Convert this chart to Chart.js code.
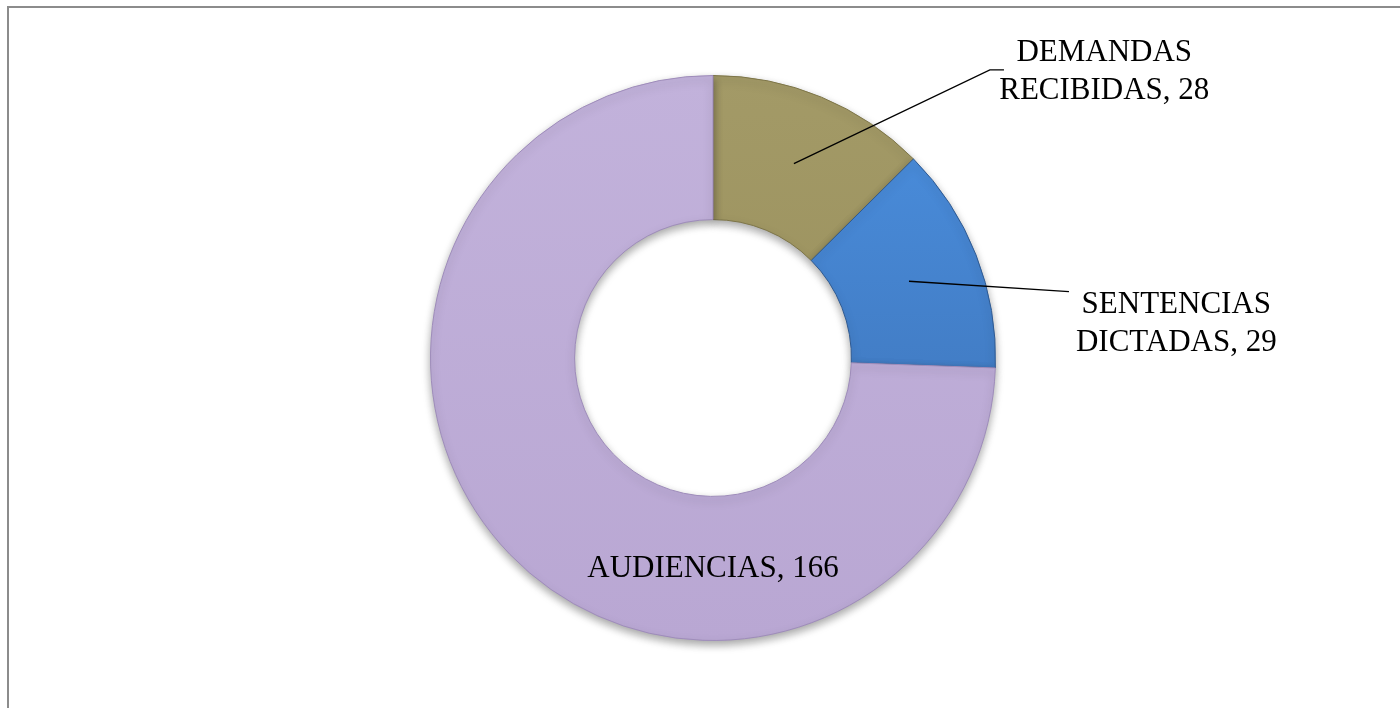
<!DOCTYPE html>
<html>
<head>
<meta charset="utf-8">
<script src="https://cdn.jsdelivr.net/npm/chart.js@4.4.1/dist/chart.umd.min.js"></script>
<style>
  html, body { margin: 0; padding: 0; background: #fff; }
  #wrap { width: 1400px; height: 708px; }
</style>
</head>
<body>
<div id="wrap"><canvas id="DonutChart" width="1400" height="708"></canvas></div>
<script>
let categories = ['DEMANDAS RECIBIDAS', 'SENTENCIAS DICTADAS', 'AUDIENCIAS'];
let values = [28, 29, 166];
let labelLines = [['DEMANDAS', 'RECIBIDAS, 28'], ['SENTENCIAS', 'DICTADAS, 29'], ['AUDIENCIAS, 166']];
let colorsTop = ['#a39a67', '#4b90e0', '#c2b2db'];
let colorsBottom = ['#958b57', '#3a6cae', '#b9a7d3'];
let edgeColors = ['#7d7548', '#2f5a92', '#9e8cba'];

function SliceGradient(context) {
    let chart = context.chart;
    let area = chart.chartArea;
    if (!area) return colorsTop[context.dataIndex];
    let g = chart.ctx.createLinearGradient(0, area.top, 0, area.bottom);
    g.addColorStop(0, colorsTop[context.dataIndex]);
    g.addColorStop(1, colorsBottom[context.dataIndex]);
    return g;
}

// grey frame around the plot, cut off at right and bottom like the source
let framePlugin = {
    id: 'frame',
    beforeDraw: function (chart) {
        let ctx = chart.ctx;
        ctx.save();
        ctx.strokeStyle = '#8c8c8c';
        ctx.lineWidth = 2;
        ctx.strokeRect(8, 7, 1500, 800);
        ctx.restore();
    }
};

let shadowPlugin = {
    id: 'shadow',
    beforeDatasetDraw: function (chart) {
        let ctx = chart.ctx;
        ctx.save();
        ctx.shadowColor = 'rgba(0,0,0,0.35)';
        ctx.shadowBlur = 9;
        ctx.shadowOffsetY = 4;
    },
    afterDatasetDraw: function (chart) {
        chart.ctx.restore();
    }
};

// text offsets relative to chart centre, in units of outer radius
let labelOffsets = [
    { x: 1.385, y: -1.05, lineTo: [0.98, -1.02], hook: [1.03, -1.02] },
    { x: 1.64, y: -0.16, lineTo: [1.26, -0.235], hook: null },
    { x: 0.0, y: 0.775, lineTo: null, hook: null }
];

let labelPlugin = {
    id: 'sliceLabels',
    afterDatasetsDraw: function (chart) {
        let ctx = chart.ctx;
        let meta = chart.getDatasetMeta(0);
        ctx.save();
        ctx.font = '31px "Liberation Serif", "Times New Roman", serif';
        ctx.fillStyle = '#000';
        ctx.textAlign = 'center';
        ctx.textBaseline = 'alphabetic';
        meta.data.forEach(function (arc, i) {
            let cx = arc.x, cy = arc.y, r = arc.outerRadius;
            let off = labelOffsets[i];
            if (off.lineTo) {
                let p = arc.tooltipPosition();
                ctx.beginPath();
                ctx.strokeStyle = '#000';
                ctx.lineWidth = 1.3;
                ctx.moveTo(p.x, p.y);
                ctx.lineTo(cx + off.lineTo[0] * r, cy + off.lineTo[1] * r);
                if (off.hook) ctx.lineTo(cx + off.hook[0] * r, cy + off.hook[1] * r);
                ctx.stroke();
            }
            let lines = labelLines[i];
            let lh = 38;
            let tx = cx + off.x * r;
            let ty = cy + off.y * r;
            lines.forEach(function (t, k) {
                ctx.fillText(t, tx, ty + k * lh);
            });
        });
        ctx.restore();
    }
};

let donutData = {
    labels: categories,
    datasets: [{
        data: values,
        backgroundColor: SliceGradient,
        borderColor: edgeColors,
        borderWidth: 1
    }]
};

new Chart(document.getElementById('DonutChart').getContext('2d'), {
    type: 'doughnut',
    data: donutData,
    options: {
        responsive: false,
        animation: false,
        cutout: '49%',
        layout: { padding: { top: 75, bottom: 67, left: 26, right: 0 } },
        plugins: {
            legend: { display: false },
            tooltip: { enabled: false }
        }
    },
    plugins: [framePlugin, shadowPlugin, labelPlugin]
});
</script>
</body>
</html>
